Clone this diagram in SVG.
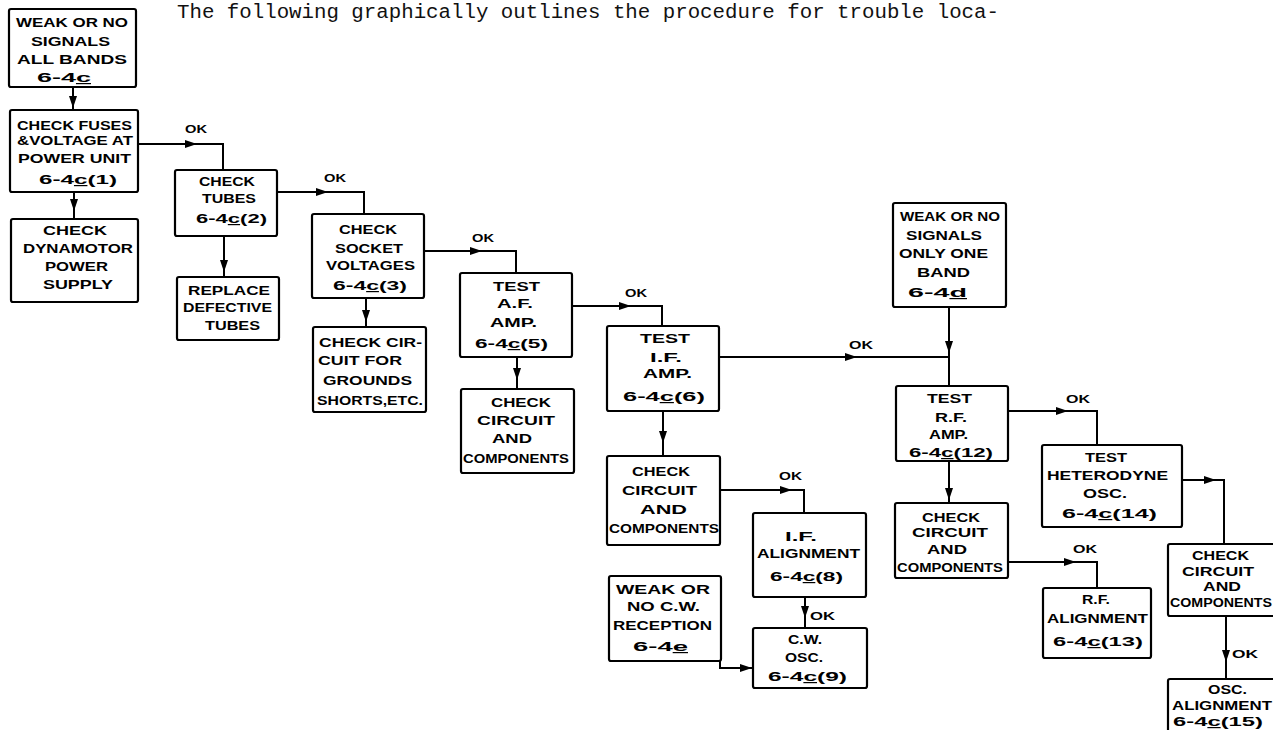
<svg xmlns="http://www.w3.org/2000/svg" width="1273" height="730" viewBox="0 0 1273 730">
<style>
.bx{fill:#fff;stroke:#000;stroke-width:2.2}
.t{font-family:"Liberation Sans",Arial,sans-serif;font-weight:bold;font-size:12px;fill:#000}
.ok{font-family:"Liberation Sans",Arial,sans-serif;font-weight:bold;font-size:11px;fill:#000}
.ln{fill:none;stroke:#000;stroke-width:2}
.ar{fill:none;stroke:#000;stroke-width:2;marker-end:url(#ah)}
.hd{font-family:"Liberation Mono","Courier New",monospace;font-size:20px;fill:#111}
</style>
<defs>
<marker id="ah" viewBox="0 0 12 8" refX="12" refY="4" markerWidth="12" markerHeight="8" markerUnits="userSpaceOnUse" orient="auto"><path d="M0,0 L12,4 L0,8 z" fill="#000"/></marker>
</defs>
<rect width="1273" height="730" fill="#fff"/>
<text class="hd" x="177" y="18" textLength="822" lengthAdjust="spacingAndGlyphs">The following graphically outlines the procedure for trouble loca-</text>

<g id="connectors">
<path class="ln" d="M73 87 V110"/><path class="ar" d="M73 98 V108"/>
<path class="ln" d="M138 144 H223 V170"/><path class="ar" d="M185 144 H197"/>
<path class="ln" d="M74 192 V219"/><path class="ar" d="M74 200 V211"/>
<path class="ln" d="M277 192 H364 V214"/><path class="ar" d="M316 192 H328"/>
<path class="ln" d="M224 236 V277"/><path class="ar" d="M224 260 V272"/>
<path class="ln" d="M424 251 H516 V273"/><path class="ar" d="M470 251 H482"/>
<path class="ln" d="M366 298 V327"/><path class="ar" d="M366 310 V322"/>
<path class="ln" d="M572 306 H662 V326"/><path class="ar" d="M619 306 H631"/>
<path class="ln" d="M517 357 V389"/><path class="ar" d="M517 368 V380"/>
<path class="ln" d="M719 357 H949"/><path class="ar" d="M845 357 H857"/>
<path class="ln" d="M949 307 V386"/><path class="ar" d="M949 341 V353"/>
<path class="ln" d="M663 411 V456"/><path class="ar" d="M663 431 V443"/>
<path class="ln" d="M720 490 H804 V513"/><path class="ar" d="M780 490 H792"/>
<path class="ln" d="M805 597 V628"/><path class="ar" d="M805 606 V618"/>
<path class="ln" d="M720 661 V668 H753"/><path class="ar" d="M740 668 H752"/>
<path class="ln" d="M1008 411 H1097 V445"/><path class="ar" d="M1056 411 H1068"/>
<path class="ln" d="M949 461 V503"/><path class="ar" d="M949 488 V500"/>
<path class="ln" d="M1008 562 H1097 V588"/><path class="ar" d="M1064 562 H1076"/>
<path class="ln" d="M1182 480 H1224 V544"/><path class="ar" d="M1204 480 H1216"/>
<path class="ln" d="M1226 616 V679"/><path class="ar" d="M1226 650 V662"/>
<text class="ok" x="185" y="133" textLength="22" lengthAdjust="spacingAndGlyphs">OK</text>
<text class="ok" x="324" y="182" textLength="22" lengthAdjust="spacingAndGlyphs">OK</text>
<text class="ok" x="472" y="242" textLength="22" lengthAdjust="spacingAndGlyphs">OK</text>
<text class="ok" x="625" y="297" textLength="22" lengthAdjust="spacingAndGlyphs">OK</text>
<text class="ok" x="849" y="349" textLength="24" lengthAdjust="spacingAndGlyphs">OK</text>
<text class="ok" x="779" y="480" textLength="23" lengthAdjust="spacingAndGlyphs">OK</text>
<text class="ok" x="810" y="620" textLength="25" lengthAdjust="spacingAndGlyphs">OK</text>
<text class="ok" x="1066" y="403" textLength="24" lengthAdjust="spacingAndGlyphs">OK</text>
<text class="ok" x="1073" y="553" textLength="24" lengthAdjust="spacingAndGlyphs">OK</text>
<text class="ok" x="1232" y="658" textLength="26" lengthAdjust="spacingAndGlyphs">OK</text>
</g>

<g id="n1"><rect class="bx" x="9" y="9" width="127" height="78" rx="2"/>
<text class="t" x="16" y="27" textLength="112" lengthAdjust="spacingAndGlyphs">WEAK OR NO</text>
<text class="t" x="31" y="46" textLength="79" lengthAdjust="spacingAndGlyphs">SIGNALS</text>
<text class="t" x="17" y="64" textLength="110" lengthAdjust="spacingAndGlyphs">ALL BANDS</text>
<text class="t" x="37" y="82" textLength="54" lengthAdjust="spacingAndGlyphs">6-4<tspan text-decoration="underline">c</tspan></text></g>

<g id="n2"><rect class="bx" x="10" y="110" width="128" height="82" rx="2"/>
<text class="t" x="17" y="130" textLength="115" lengthAdjust="spacingAndGlyphs">CHECK FUSES</text>
<text class="t" x="17" y="145" textLength="116" lengthAdjust="spacingAndGlyphs">&amp;VOLTAGE AT</text>
<text class="t" x="18" y="163" textLength="113" lengthAdjust="spacingAndGlyphs">POWER UNIT</text>
<text class="t" x="39" y="184" textLength="78" lengthAdjust="spacingAndGlyphs">6-4<tspan text-decoration="underline">c</tspan>(1)</text></g>

<g id="n3"><rect class="bx" x="11" y="219" width="127" height="83" rx="2"/>
<text class="t" x="43" y="235" textLength="64" lengthAdjust="spacingAndGlyphs">CHECK</text>
<text class="t" x="23" y="253" textLength="110" lengthAdjust="spacingAndGlyphs">DYNAMOTOR</text>
<text class="t" x="45" y="271" textLength="63" lengthAdjust="spacingAndGlyphs">POWER</text>
<text class="t" x="43" y="289" textLength="70" lengthAdjust="spacingAndGlyphs">SUPPLY</text></g>

<g id="n4"><rect class="bx" x="175" y="170" width="102" height="66" rx="2"/>
<text class="t" x="199" y="186" textLength="56" lengthAdjust="spacingAndGlyphs">CHECK</text>
<text class="t" x="202" y="203" textLength="54" lengthAdjust="spacingAndGlyphs">TUBES</text>
<text class="t" x="196" y="223" textLength="71" lengthAdjust="spacingAndGlyphs">6-4<tspan text-decoration="underline">c</tspan>(2)</text></g>

<g id="n5"><rect class="bx" x="177" y="277" width="102" height="63" rx="2"/>
<text class="t" x="188" y="295" textLength="82" lengthAdjust="spacingAndGlyphs">REPLACE</text>
<text class="t" x="183" y="312" textLength="89" lengthAdjust="spacingAndGlyphs">DEFECTIVE</text>
<text class="t" x="205" y="330" textLength="55" lengthAdjust="spacingAndGlyphs">TUBES</text></g>

<g id="n6"><rect class="bx" x="312" y="214" width="112" height="84" rx="2"/>
<text class="t" x="339" y="234" textLength="58" lengthAdjust="spacingAndGlyphs">CHECK</text>
<text class="t" x="335" y="253" textLength="68" lengthAdjust="spacingAndGlyphs">SOCKET</text>
<text class="t" x="326" y="270" textLength="89" lengthAdjust="spacingAndGlyphs">VOLTAGES</text>
<text class="t" x="333" y="290" textLength="74" lengthAdjust="spacingAndGlyphs">6-4<tspan text-decoration="underline">c</tspan>(3)</text></g>

<g id="n7"><rect class="bx" x="313" y="327" width="113" height="85" rx="2"/>
<text class="t" x="319" y="347" textLength="103" lengthAdjust="spacingAndGlyphs">CHECK CIR-</text>
<text class="t" x="318" y="365" textLength="84" lengthAdjust="spacingAndGlyphs">CUIT FOR</text>
<text class="t" x="323" y="385" textLength="89" lengthAdjust="spacingAndGlyphs">GROUNDS</text>
<text class="t" x="317" y="405" textLength="106" lengthAdjust="spacingAndGlyphs">SHORTS,ETC.</text></g>

<g id="n8"><rect class="bx" x="460" y="273" width="112" height="84" rx="2"/>
<text class="t" x="493" y="291" textLength="47" lengthAdjust="spacingAndGlyphs">TEST</text>
<text class="t" x="497" y="308" textLength="36" lengthAdjust="spacingAndGlyphs">A.F.</text>
<text class="t" x="490" y="327" textLength="47" lengthAdjust="spacingAndGlyphs">AMP.</text>
<text class="t" x="475" y="348" textLength="73" lengthAdjust="spacingAndGlyphs">6-4<tspan text-decoration="underline">c</tspan>(5)</text></g>

<g id="n9"><rect class="bx" x="461" y="389" width="113" height="84" rx="2"/>
<text class="t" x="491" y="407" textLength="60" lengthAdjust="spacingAndGlyphs">CHECK</text>
<text class="t" x="477" y="425" textLength="78" lengthAdjust="spacingAndGlyphs">CIRCUIT</text>
<text class="t" x="492" y="443" textLength="40" lengthAdjust="spacingAndGlyphs">AND</text>
<text class="t" x="463" y="463" textLength="106" lengthAdjust="spacingAndGlyphs">COMPONENTS</text></g>

<g id="n10"><rect class="bx" x="607" y="326" width="112" height="85" rx="2"/>
<text class="t" x="640" y="343" textLength="50" lengthAdjust="spacingAndGlyphs">TEST</text>
<text class="t" x="650" y="362" textLength="32" lengthAdjust="spacingAndGlyphs">I.F.</text>
<text class="t" x="643" y="378" textLength="49" lengthAdjust="spacingAndGlyphs">AMP.</text>
<text class="t" x="623" y="401" textLength="82" lengthAdjust="spacingAndGlyphs">6-4<tspan text-decoration="underline">c</tspan>(6)</text></g>

<g id="n11"><rect class="bx" x="607" y="456" width="113" height="89" rx="2"/>
<text class="t" x="632" y="476" textLength="58" lengthAdjust="spacingAndGlyphs">CHECK</text>
<text class="t" x="622" y="495" textLength="75" lengthAdjust="spacingAndGlyphs">CIRCUIT</text>
<text class="t" x="640" y="514" textLength="47" lengthAdjust="spacingAndGlyphs">AND</text>
<text class="t" x="609" y="533" textLength="110" lengthAdjust="spacingAndGlyphs">COMPONENTS</text></g>

<g id="n12"><rect class="bx" x="753" y="513" width="113" height="84" rx="2"/>
<text class="t" x="785" y="541" textLength="32" lengthAdjust="spacingAndGlyphs">I.F.</text>
<text class="t" x="757" y="558" textLength="103" lengthAdjust="spacingAndGlyphs">ALIGNMENT</text>
<text class="t" x="770" y="581" textLength="73" lengthAdjust="spacingAndGlyphs">6-4<tspan text-decoration="underline">c</tspan>(8)</text></g>

<g id="n13"><rect class="bx" x="753" y="628" width="114" height="60" rx="2"/>
<text class="t" x="788" y="644" textLength="34" lengthAdjust="spacingAndGlyphs">C.W.</text>
<text class="t" x="785" y="662" textLength="38" lengthAdjust="spacingAndGlyphs">OSC.</text>
<text class="t" x="768" y="681" textLength="79" lengthAdjust="spacingAndGlyphs">6-4<tspan text-decoration="underline">c</tspan>(9)</text></g>

<g id="n14"><rect class="bx" x="609" y="576" width="112" height="85" rx="2"/>
<text class="t" x="616" y="594" textLength="94" lengthAdjust="spacingAndGlyphs">WEAK OR</text>
<text class="t" x="627" y="611" textLength="73" lengthAdjust="spacingAndGlyphs">NO C.W.</text>
<text class="t" x="613" y="630" textLength="99" lengthAdjust="spacingAndGlyphs">RECEPTION</text>
<text class="t" x="633" y="651" textLength="55" lengthAdjust="spacingAndGlyphs">6-4<tspan text-decoration="underline">e</tspan></text></g>

<g id="n15"><rect class="bx" x="893" y="203" width="113" height="104" rx="2"/>
<text class="t" x="900" y="221" textLength="100" lengthAdjust="spacingAndGlyphs">WEAK OR NO</text>
<text class="t" x="906" y="240" textLength="76" lengthAdjust="spacingAndGlyphs">SIGNALS</text>
<text class="t" x="899" y="258" textLength="89" lengthAdjust="spacingAndGlyphs">ONLY ONE</text>
<text class="t" x="917" y="277" textLength="53" lengthAdjust="spacingAndGlyphs">BAND</text>
<text class="t" x="908" y="297" textLength="59" lengthAdjust="spacingAndGlyphs">6-4<tspan text-decoration="underline">d</tspan></text></g>

<g id="n16"><rect class="bx" x="896" y="386" width="112" height="75" rx="2"/>
<text class="t" x="927" y="403" textLength="45" lengthAdjust="spacingAndGlyphs">TEST</text>
<text class="t" x="935" y="422" textLength="32" lengthAdjust="spacingAndGlyphs">R.F.</text>
<text class="t" x="929" y="439" textLength="39" lengthAdjust="spacingAndGlyphs">AMP.</text>
<text class="t" x="909" y="457" textLength="84" lengthAdjust="spacingAndGlyphs">6-4<tspan text-decoration="underline">c</tspan>(12)</text></g>

<g id="n17"><rect class="bx" x="895" y="503" width="113" height="75" rx="2"/>
<text class="t" x="922" y="522" textLength="58" lengthAdjust="spacingAndGlyphs">CHECK</text>
<text class="t" x="912" y="537" textLength="76" lengthAdjust="spacingAndGlyphs">CIRCUIT</text>
<text class="t" x="927" y="554" textLength="40" lengthAdjust="spacingAndGlyphs">AND</text>
<text class="t" x="897" y="572" textLength="106" lengthAdjust="spacingAndGlyphs">COMPONENTS</text></g>

<g id="n18"><rect class="bx" x="1042" y="445" width="140" height="82" rx="2"/>
<text class="t" x="1085" y="462" textLength="42" lengthAdjust="spacingAndGlyphs">TEST</text>
<text class="t" x="1047" y="480" textLength="121" lengthAdjust="spacingAndGlyphs">HETERODYNE</text>
<text class="t" x="1083" y="498" textLength="44" lengthAdjust="spacingAndGlyphs">OSC.</text>
<text class="t" x="1062" y="518" textLength="95" lengthAdjust="spacingAndGlyphs">6-4<tspan text-decoration="underline">c</tspan>(14)</text></g>

<g id="n19"><rect class="bx" x="1043" y="588" width="108" height="70" rx="2"/>
<text class="t" x="1082" y="604" textLength="28" lengthAdjust="spacingAndGlyphs">R.F.</text>
<text class="t" x="1047" y="623" textLength="101" lengthAdjust="spacingAndGlyphs">ALIGNMENT</text>
<text class="t" x="1053" y="646" textLength="90" lengthAdjust="spacingAndGlyphs">6-4<tspan text-decoration="underline">c</tspan>(13)</text></g>

<g id="n20"><rect class="bx" x="1168" y="544" width="120" height="72" rx="2"/>
<text class="t" x="1192" y="560" textLength="57" lengthAdjust="spacingAndGlyphs">CHECK</text>
<text class="t" x="1182" y="576" textLength="72" lengthAdjust="spacingAndGlyphs">CIRCUIT</text>
<text class="t" x="1203" y="591" textLength="38" lengthAdjust="spacingAndGlyphs">AND</text>
<text class="t" x="1170" y="607" textLength="102" lengthAdjust="spacingAndGlyphs">COMPONENTS</text></g>

<g id="n21"><rect class="bx" x="1168" y="679" width="120" height="60" rx="2"/>
<text class="t" x="1208" y="694" textLength="39" lengthAdjust="spacingAndGlyphs">OSC.</text>
<text class="t" x="1172" y="710" textLength="100" lengthAdjust="spacingAndGlyphs">ALIGNMENT</text>
<text class="t" x="1173" y="726" textLength="90" lengthAdjust="spacingAndGlyphs">6-4<tspan text-decoration="underline">c</tspan>(15)</text></g>
</svg>
